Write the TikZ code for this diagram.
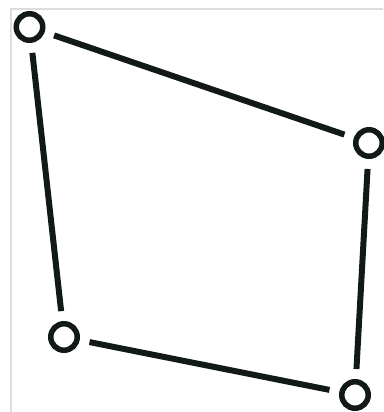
\documentclass[tikz,border=0pt]{standalone}
\begin{document}
\begin{tikzpicture}[x=0.02cm, y=-0.02cm]
    \def\gapLength{10*0.02cm}

    \definecolor{borderColour}{HTML}{DDDDDD}
    \definecolor{lineColour}{HTML}{111A14}

    \tikzset{
        vertex/.style={circle, draw=lineColour, line width=5.5*0.02cm, inner sep=0pt, minimum size=26.5*0.02cm},
        edge/.style={draw=lineColour, line width=6*0.02cm, shorten <=\gapLength, shorten >=\gapLength}
    }

    \useasboundingbox (0,0) rectangle (383,412);

    % Frame
    \draw[borderColour, line width=2*0.02cm] (11,412) -- (11,9) -- (383,9);

    % Vertices
    \node[vertex] (topLeft) at (29.5,27) {};
    \node[vertex] (right) at (369,143) {};
    \node[vertex] (bottomRight) at (355,395) {};
    \node[vertex] (bottomLeft) at (64,337) {};

    % Edges
    \draw[edge] (topLeft) -- (right);
    \draw[edge] (right) -- (bottomRight);
    \draw[edge] (bottomRight) -- (bottomLeft);
    \draw[edge] (bottomLeft) -- (topLeft);

\end{tikzpicture}
\end{document}
